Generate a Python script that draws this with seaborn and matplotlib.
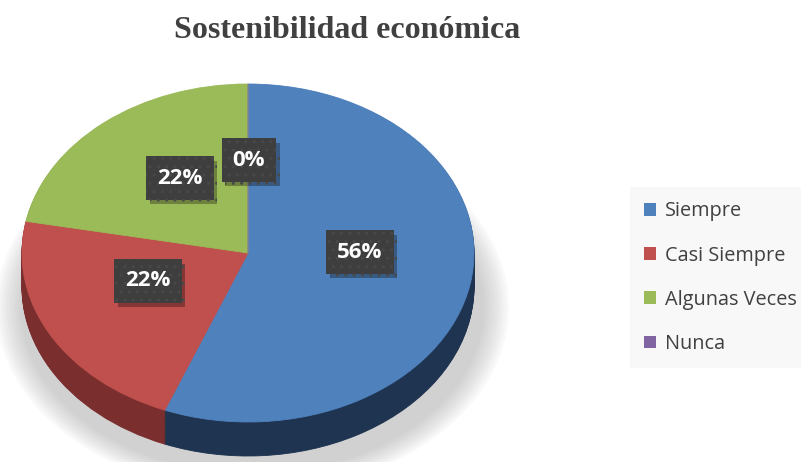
import matplotlib
matplotlib.use("Agg")
import matplotlib.pyplot as plt
from matplotlib.patches import Ellipse, Patch
import matplotlib.patheffects as pe
import seaborn as sns
import numpy as np

# ---- data ----
categories = ["Siempre", "Casi Siempre", "Algunas Veces", "Nunca"]
values = [56, 22, 22, 0]
top_colors = ["#4F81BD", "#C0504D", "#9BBB59", "#8064A2"]
side_colors = ["#1F3450", "#7A2E2D", "#5E7433", "#4A3A60"]
title = "Sostenibilidad económica"

# ---- layout (pixels) ----
W, H = 801, 462
CX, CY = 248, 253      # centre of top face
RX, RY = 226, 169      # ellipse radii
DEPTH = 34             # thickness of the 3-D wall
label_pos = [(360, 252), (148, 281), (180, 178), (249, 160)]

sns.set_theme(style="white")
plt.rcParams["font.family"] = ["Open Sans", "DejaVu Sans"]
pal_top = sns.color_palette(top_colors)
pal_side = sns.color_palette(side_colors)

fig = plt.figure(figsize=(W / 100, H / 100), dpi=100)
fig.patch.set_facecolor("white")
ax = fig.add_axes([0, 0, 1, 1])


def to_data(px, py):
    return (px - CX) / RX, (CY - py) / RY


def set_limits():
    x0, _ = to_data(0, 0)
    x1, _ = to_data(W, 0)
    _, y0 = to_data(0, H)
    _, y1 = to_data(0, 0)
    ax.set_xlim(x0, x1)
    ax.set_ylim(y0, y1)
    ax.set_aspect("auto")
    ax.axis("off")


d = DEPTH / RY

# soft shadow (below and to the sides)
for k in range(10):
    grow = 0.012 * (k + 1)
    e = Ellipse((0.02, -d - 0.12), 2 * (1 + grow) + 0.03, 2 * (1 + grow) - 0.05,
                facecolor="#9a9a9a", edgecolor="none", alpha=0.05, zorder=0)
    ax.add_patch(e)

# side wall: stacked pies
N = 40
for i in range(N, 0, -1):
    wedges, _ = ax.pie(values, colors=pal_side, startangle=90, counterclock=False,
                       radius=1, center=(0, -d * i / N),
                       wedgeprops=dict(linewidth=0.6))
    for w, c in zip(wedges, pal_side):
        w.set_edgecolor(c)
        w.set_zorder(1)

# top face
wedges, _ = ax.pie(values, colors=pal_top, startangle=90, counterclock=False,
                   radius=1, center=(0, 0),
                   wedgeprops=dict(linewidth=0.6))
for w, c in zip(wedges, pal_top):
    w.set_edgecolor(c)
    w.set_zorder(2)

set_limits()

# data labels
for v, (px, py) in zip(values, label_pos):
    x, y = to_data(px, py)
    t = ax.text(x, y, f"{v}%", ha="center", va="center", fontsize=16, fontweight="bold",
                color="white", zorder=4,
                bbox=dict(boxstyle="square,pad=0.5", facecolor="#3E3E3E",
                          edgecolor="#484848", linewidth=0, hatch=".."))
    t.get_bbox_patch().set_path_effects(
        [pe.SimplePatchShadow(offset=(2.5, -3), shadow_rgbFace="black", alpha=0.3),
         pe.Normal()])

# title
fig.text(347 / W, 1 - 30 / H, title, ha="center", va="center",
         fontsize=23, fontweight="bold", color="#404040",
         family=["Liberation Serif", "DejaVu Serif"])

# legend
handles = [Patch(facecolor=c, edgecolor="none") for c in pal_top]
leg = fig.legend(handles, categories, loc="upper left",
                 bbox_to_anchor=(630 / W, 1 - 187 / H), bbox_transform=fig.transFigure,
                 fontsize=14.3, labelspacing=1.22, handlelength=0.6, handleheight=0.6,
                 handletextpad=0.42, borderpad=0.72, borderaxespad=0,
                 frameon=True, fancybox=False)
leg.get_frame().set_facecolor("#F7F7F7")
leg.get_frame().set_edgecolor("none")
for t in leg.get_texts():
    t.set_color("#404040")

fig.savefig("out.png", dpi=100)
